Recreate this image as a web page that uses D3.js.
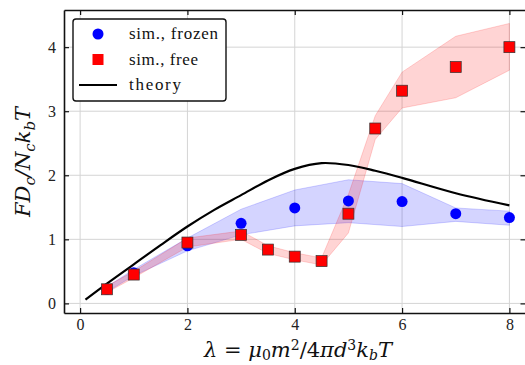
<!DOCTYPE html>
<meta charset="utf-8">
<title>force vs lambda</title>
<style>
body { margin: 0; background: white; }
</style>
<body>
<svg id="chart" width="525" height="365"></svg>
</body>
<script src="https://cdn.jsdelivr.net/npm/d3@7"></script>
<script>

// simulation, frozen
var frozenX  = [0.5, 1, 2, 3, 4, 5, 6, 7, 8];
var frozenY  = [0.22, 0.48, 0.90, 1.25, 1.49, 1.60, 1.59, 1.40, 1.34];
var frozenLo = [0.18, 0.43, 0.82, 1.07, 1.21, 1.26, 1.20, 1.28, 1.22];
var frozenHi = [0.26, 0.53, 1.02, 1.47, 1.77, 1.93, 1.87, 1.49, 1.44];

// simulation, free
var freeX  = [0.5, 1, 2, 3, 3.5, 4, 4.5, 5, 5.5, 6, 7, 8];
var freeY  = [0.22, 0.45, 0.95, 1.07, 0.84, 0.73, 0.66, 1.40, 2.73, 3.32, 3.69, 4.00];
var freeLo = [0.17, 0.40, 0.88, 1.00, 0.78, 0.68, 0.60, 1.10, 2.56, 3.05, 3.21, 3.64];
var freeHi = [0.27, 0.50, 1.02, 1.13, 0.90, 0.79, 0.71, 1.70, 2.93, 3.61, 4.17, 4.37];

// theory
var theoryX = [0.1, 0.5, 1, 1.5, 2, 2.5, 3, 3.5, 4, 4.5, 5, 5.5, 6, 7, 8];
var theoryY = [0.06, 0.31, 0.61, 0.91, 1.20, 1.46, 1.69, 1.92, 2.10, 2.19, 2.16, 2.07, 1.96, 1.72, 1.53];

var xTicks = [0, 2, 4, 6, 8];
var yTicks = [0, 1, 2, 3, 4];

var SERIF = '"DejaVu Serif", "Liberation Serif", serif';
var TIMES = '"Liberation Serif", "DejaVu Serif", serif';
var svg = d3.select("#chart");
var x = d3.scaleLinear().domain([-0.3, 8.3]).range([64, 525.5]);
var y = d3.scaleLinear().domain([-0.15, 4.58]).range([313, 10]);

// grid
svg.append("g").selectAll("line").data(xTicks).enter().append("line")
  .attr("x1", d => x(d)).attr("x2", d => x(d))
  .attr("y1", y.range()[0]).attr("y2", y.range()[1])
  .attr("stroke", "#d4d4d4").attr("stroke-width", 1);
svg.append("g").selectAll("line").data(yTicks).enter().append("line")
  .attr("y1", d => y(d)).attr("y2", d => y(d))
  .attr("x1", x.range()[0]).attr("x2", x.range()[1])
  .attr("stroke", "#d4d4d4").attr("stroke-width", 1);

var area = d3.area().x(d => x(d.x)).y0(d => y(d.lo)).y1(d => y(d.hi));
var line = d3.line().x(d => x(d.x)).y(d => y(d.y)).curve(d3.curveCatmullRom);

var frozen = frozenX.map((v, i) => ({x: v, y: frozenY[i], lo: frozenLo[i], hi: frozenHi[i]}));
var free = freeX.map((v, i) => ({x: v, y: freeY[i], lo: freeLo[i], hi: freeHi[i]}));
var theory = theoryX.map((v, i) => ({x: v, y: theoryY[i]}));

svg.append("path").attr("d", area(frozen))
  .attr("fill", "rgba(0,0,255,0.17)").attr("stroke", "rgba(0,0,255,0.17)");
svg.append("path").attr("d", area(free))
  .attr("fill", "rgba(255,0,0,0.17)").attr("stroke", "rgba(255,0,0,0.17)");

svg.append("path").attr("d", line(theory))
  .attr("fill", "none").attr("stroke", "black").attr("stroke-width", 2.2);

svg.append("g").selectAll("circle").data(frozen).enter().append("circle")
  .attr("cx", d => x(d.x)).attr("cy", d => y(d.y)).attr("r", 5.5)
  .attr("fill", "#0000ff");
svg.append("g").selectAll("rect").data(free).enter().append("rect")
  .attr("x", d => x(d.x) - 5.5).attr("y", d => y(d.y) - 5.5)
  .attr("width", 11).attr("height", 11)
  .attr("fill", "#ff0000").attr("stroke", "#333").attr("stroke-width", 0.7);

// axes, ticks inward on all sides
var tl = 5, fmt = d3.format("d");
svg.append("g").attr("transform", "translate(0," + y.range()[0] + ")")
  .call(d3.axisBottom(x).tickValues(xTicks).tickFormat(fmt).tickSizeInner(-tl).tickSizeOuter(0).tickPadding(6));
svg.append("g").attr("transform", "translate(0," + y.range()[1] + ")")
  .call(d3.axisTop(x).tickValues(xTicks).tickSizeInner(-tl).tickSizeOuter(0).tickFormat(""));
svg.append("g").attr("transform", "translate(" + x.range()[0] + ",0)")
  .call(d3.axisLeft(y).tickValues(yTicks).tickFormat(fmt).tickSizeInner(-tl).tickSizeOuter(0).tickPadding(8));
svg.append("g").attr("transform", "translate(" + x.range()[1] + ",0)")
  .call(d3.axisRight(y).tickValues(yTicks).tickSizeInner(-tl).tickSizeOuter(0).tickFormat(""));
svg.selectAll(".domain").attr("stroke", "#111").attr("stroke-width", 1.6);
svg.selectAll(".tick line").attr("stroke", "#111").attr("stroke-width", 1.2);
svg.selectAll(".tick text").style("font-family", TIMES).style("font-size", "16px").attr("fill", "#222");

// legend
var lg = svg.append("g");
lg.append("rect").attr("x", 73).attr("y", 19).attr("width", 153).attr("height", 82)
  .attr("rx", 3).attr("fill", "white").attr("stroke", "#111").attr("stroke-width", 1.4);
lg.append("circle").attr("cx", 98).attr("cy", 34).attr("r", 5.5).attr("fill", "#0000ff");
lg.append("rect").attr("x", 92.5).attr("y", 54).attr("width", 11).attr("height", 11).attr("fill", "#ff0000");
lg.append("line").attr("x1", 79).attr("x2", 117).attr("y1", 85).attr("y2", 85)
  .attr("stroke", "black").attr("stroke-width", 2.2);
var legendText = ["sim., frozen", "sim., free", "theory"];
lg.selectAll("text").data(legendText).enter().append("text")
  .attr("x", 129).attr("y", (d, i) => 39 + i * 25.5)
  .style("font-family", TIMES).style("font-size", "17px").attr("fill", "#111")
  .attr("textLength", (d, i) => [89, 69, 52][i])
  .text(d => d);

// axis labels
var yl = svg.append("text").attr("transform", "translate(30,162) rotate(-90)")
  .attr("text-anchor", "middle").style("font-family", SERIF).style("font-size", "21px")
  .attr("font-style", "italic").attr("fill", "#111");
yl.append("tspan").text("FD");
yl.append("tspan").attr("dy", 5).style("font-size", "15px").text("c");
yl.append("tspan").attr("dy", -5).text("/N");
yl.append("tspan").attr("dy", 5).style("font-size", "15px").text("c");
yl.append("tspan").attr("dy", -5).text("k");
yl.append("tspan").attr("dy", 5).style("font-size", "15px").text("b");
yl.append("tspan").attr("dy", -5).text("T");

var xl = svg.append("text").attr("x", 298).attr("y", 357)
  .attr("text-anchor", "middle").style("font-family", SERIF).style("font-size", "21px").attr("fill", "#111");
xl.append("tspan").attr("font-style", "italic").text("λ");
xl.append("tspan").text(" = ");
xl.append("tspan").attr("font-style", "italic").text("μ");
xl.append("tspan").attr("dy", 3).style("font-size", "14px").text("0");
xl.append("tspan").attr("dy", -3).attr("font-style", "italic").text("m");
xl.append("tspan").attr("dy", -7).style("font-size", "14px").text("2");
xl.append("tspan").attr("dy", 7).text("/4");
xl.append("tspan").attr("font-style", "italic").text("πd");
xl.append("tspan").attr("dy", -7).style("font-size", "14px").text("3");
xl.append("tspan").attr("dy", 7).attr("font-style", "italic").text("k");
xl.append("tspan").attr("dy", 3).style("font-size", "14px").attr("font-style", "italic").text("b");
xl.append("tspan").attr("dy", -3).attr("font-style", "italic").text("T");

</script>
